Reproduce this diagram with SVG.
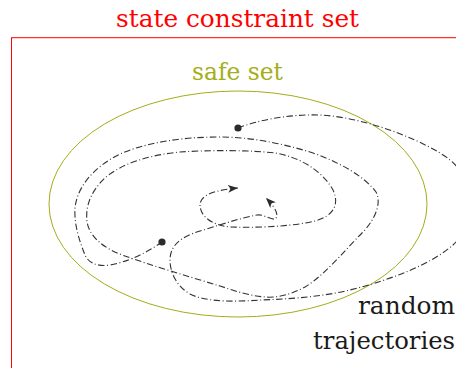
<svg xmlns="http://www.w3.org/2000/svg" width="456" height="368" viewBox="0 0 456 368">
  <style>
    text { font-family: "DejaVu Serif", "Liberation Serif", serif; font-size: 24px; }
    .traj { fill: none; stroke: #333; stroke-width: 1.1; stroke-dasharray: 6.5 2.5 1 2.5; }
    .dot { fill: #2b2b2b; }
  </style>
  <defs>
    <marker id="arrow" viewBox="-11 -5 12 10" markerWidth="12" markerHeight="10" refX="0" refY="0" orient="auto" markerUnits="userSpaceOnUse">
      <path d="M0,0 L-10,-4 L-7.5,0 L-10,4 Z" fill="#2b2b2b"/>
    </marker>
  </defs>
  <rect width="456" height="368" fill="#fff"/>

  <g id="state-constraint-set">
    <rect x="11.5" y="37.7" width="470" height="360" fill="none" stroke="#ff0000" stroke-width="1"/>
    <text x="116" y="27.3" fill="#ff0000" textLength="243" lengthAdjust="spacingAndGlyphs">state constraint set</text>
  </g>

  <g id="safe-set">
    <ellipse cx="238" cy="204" rx="189" ry="113" fill="none" stroke="#a4ae18" stroke-width="1"/>
    <text x="192" y="80" fill="#a4ae18" textLength="91" lengthAdjust="spacingAndGlyphs">safe set</text>
  </g>

  <g id="trajectories">
    <path id="traj-1" class="traj" marker-end="url(#arrow)" d="M238,128 C258,120 290,114 320,115 C360,117 410,135 440,153 C455,162 462,172 466,180 C475,200 470,230 453,245 C430,265 390,280 350,290 C320,297 290,299 260,300 C235,302 205,302 190,294 C176,286 170,272 170,260 C170,246 180,237 200,231 C220,225 240,218 257,215 C264,214 270,220 275,219 C279,216 277,209 266,198"/>
    <path id="traj-2" class="traj" marker-end="url(#arrow)" d="M162,242 C148,252 128,262 110,265 C96,267 88,262 85,255 C79,240 74,224 75,208 C77,188 92,168 120,154 C145,143 180,137 220,137 C250,137 280,143 310,152 C340,162 365,177 376,192 C382,203 375,220 362,233 C345,250 325,275 305,287 C290,295 277,298 265,297 C250,296 235,291 220,286 C190,277 150,265 125,256 C105,249 90,238 87,222 C85,205 92,190 105,178 C122,163 150,155 180,152 C210,150 250,150 275,153 C305,158 325,175 333,190 C340,205 333,216 315,221 C295,226 260,228 230,227 C210,225 200,215 200,205 C200,195 215,190 238,188"/>
    <circle id="start-1" class="dot" cx="238" cy="128" r="3.6"/>
    <circle id="start-2" class="dot" cx="162" cy="242" r="3.6"/>
  </g>

  <g id="trajectories-label" fill="#1a1a1a">
    <text x="358" y="314" textLength="97" lengthAdjust="spacingAndGlyphs">random</text>
    <text x="313" y="349" textLength="142" lengthAdjust="spacingAndGlyphs">trajectories</text>
  </g>
</svg>
